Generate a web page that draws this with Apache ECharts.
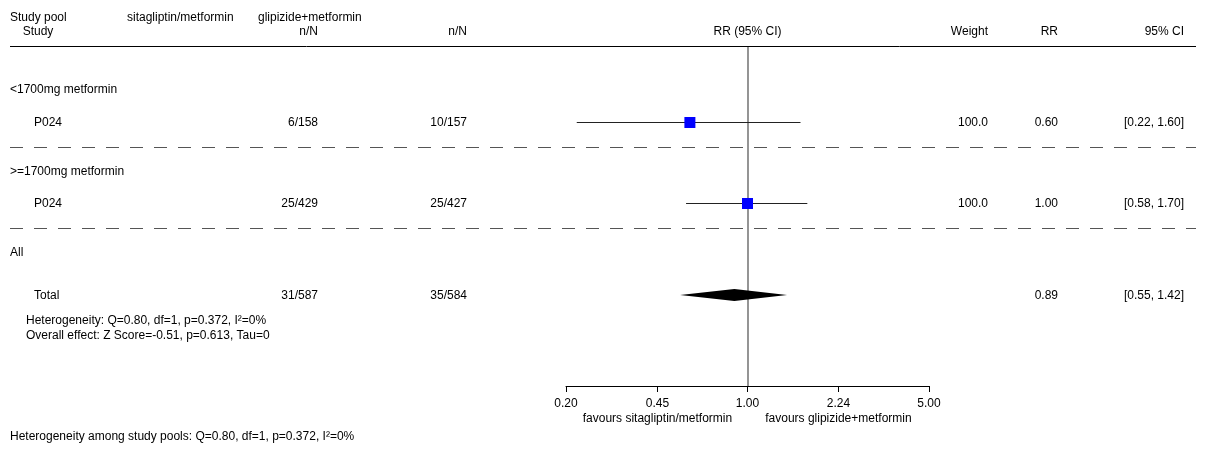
<!DOCTYPE html>
<html>
<head>
<meta charset="utf-8">
<script src="https://cdn.jsdelivr.net/npm/echarts@6/dist/echarts.min.js"></script>
<style>
html,body{margin:0;padding:0;background:#fff;}
#chart{width:1206px;height:453px;}
</style>
</head>
<body>
<div id="chart"></div>
<script>
// ---------------- data ----------------
const poolNames = ['<1700mg metformin', '>=1700mg metformin'];
const studyNames = ['P024', 'P024'];
const sitaEvents = [6, 25];
const sitaTotals = [158, 429];
const glipEvents = [10, 25];
const glipTotals = [157, 427];
const studyRR = [0.60, 1.00];
const studyLo = [0.22, 0.58];
const studyHi = [1.60, 1.70];
const studyWeight = [100.0, 100.0];
const overallLabel = 'Total';
const overallSita = [31, 587];
const overallGlip = [35, 584];
const overallRR = [0.89, 0.55, 1.42];
const hetText = 'Heterogeneity: Q=0.80, df=1, p=0.372, I\u00b2=0%';
const effectText = 'Overall effect: Z Score=-0.51, p=0.613, Tau=0';
const poolHetText = 'Heterogeneity among study pools: Q=0.80, df=1, p=0.372, I\u00b2=0%';
const xTicks = [0.20, 0.45, 1.00, 2.24, 5.00];
const favourLeft = 'favours sitagliptin/metformin';
const favourRight = 'favours glipizide+metformin';

// ---------------- layout ----------------
const ROW = {head1: 18, head2: 32, headLine: 47, pools: [90, 172], studies: [122, 203], seps: [147, 228],
  all: 253, total: 295, het: 321, eff: 336, axis: 386, favours: 419, bottom: 437};
const COL = {left: 10, indent: 34, hetIndent: 26, sitaRight: 318, glipRight: 467, sitaHead: 127, glipHead: 258,
  studyHeadCenter: 38, weightRight: 988, rrRight: 1058, ciRight: 1184, lineEnd: 1196};
const FONT = '12px "Liberation Sans", Arial, sans-serif';

const chart = echarts.init(document.getElementById('chart'), null, {renderer: 'canvas'});

function txt(text, x, y, align) {
  return {type: 'text', silent: true, z: 10,
    style: {text: text, x: x, y: y, font: FONT, fill: '#000',
      align: align || 'left', textAlign: align || 'left', verticalAlign: 'middle', textVerticalAlign: 'middle'}};
}
function hline(y, dashed, color) {
  return {type: 'line', silent: true, z: 5,
    shape: {x1: COL.left, y1: y + 0.5, x2: COL.lineEnd, y2: y + 0.5},
    style: {stroke: color, lineWidth: 1, lineDash: dashed ? [13, 11] : null}};
}
const fmtCI = (a, b) => '[' + a.toFixed(2) + ', ' + b.toFixed(2) + ']';

const studyData = studyRR.map((r, i) => [r, studyLo[i], studyHi[i], ROW.studies[i]]);

const option = {
  animation: false,
  grid: {left: 566, right: 1206 - 929, top: ROW.headLine, height: ROW.axis - ROW.headLine},
  xAxis: {
    type: 'log', min: 0.2, max: 5, logBase: 10,
    axisLine: {show: true, lineStyle: {color: '#000', width: 1}},
    axisTick: {show: true, length: 6, inside: false, customValues: xTicks, lineStyle: {color: '#000'}},
    axisLabel: {show: true, customValues: xTicks, margin: 12, color: '#000',
      fontFamily: '"Liberation Sans", Arial, sans-serif', fontSize: 12,
      formatter: v => Number(v).toFixed(2)},
    splitLine: {show: false}, minorTick: {show: false}, minorSplitLine: {show: false}
  },
  yAxis: {type: 'value', min: ROW.headLine, max: ROW.axis, inverse: true, show: false},
  series: [
    {
      type: 'custom', name: 'studies', data: studyData, z: 3,
      renderItem: function (params, api) {
        const y = api.value(3);
        const pc = api.coord([api.value(0), y]);
        const pl = api.coord([api.value(1), y]);
        const ph = api.coord([api.value(2), y]);
        const s = 11;
        return {type: 'group', children: [
          {type: 'line', shape: {x1: pl[0], y1: pc[1] + 0.5, x2: ph[0], y2: pc[1] + 0.5},
            style: {stroke: '#222', lineWidth: 1}},
          {type: 'rect', shape: {x: pc[0] - s / 2, y: pc[1] - s / 2 + 0.5, width: s, height: s},
            style: {fill: '#0000ff'}}
        ]};
      },
      markLine: {
        silent: true, symbol: 'none', label: {show: false}, z: 2,
        lineStyle: {color: '#7a7a7a', width: 1.6, type: 'solid'},
        data: [{xAxis: 1}]
      }
    },
    {
      type: 'custom', name: 'overall', data: [[overallRR[0], overallRR[1], overallRR[2], ROW.total]], z: 3,
      renderItem: function (params, api) {
        const y = api.value(3);
        const pc = api.coord([api.value(0), y]);
        const pl = api.coord([api.value(1), y]);
        const ph = api.coord([api.value(2), y]);
        const h = 6;
        return {type: 'polygon', shape: {points: [[pl[0], pc[1]], [pc[0], pc[1] - h], [ph[0], pc[1]], [pc[0], pc[1] + h]]},
          style: {fill: '#000'}};
      }
    }
  ]
};
chart.setOption(option);

// ---------- table text (graphic) ----------
const g = [];
g.push(txt('Study pool', COL.left, ROW.head1));
g.push(txt('sitagliptin/metformin', COL.sitaHead, ROW.head1));
g.push(txt('glipizide+metformin', COL.glipHead, ROW.head1));
g.push(txt('Study', COL.studyHeadCenter, ROW.head2, 'center'));
g.push(txt('n/N', COL.sitaRight, ROW.head2, 'right'));
g.push(txt('n/N', COL.glipRight, ROW.head2, 'right'));
const x1 = chart.convertToPixel({xAxisIndex: 0}, 1);
g.push(txt('RR (95% CI)', x1, ROW.head2, 'center'));
g.push(txt('Weight', COL.weightRight, ROW.head2, 'right'));
g.push(txt('RR', COL.rrRight, ROW.head2, 'right'));
g.push(txt('95% CI', COL.ciRight, ROW.head2, 'right'));
g.push(hline(ROW.headLine - 1, false, '#000'));

poolNames.forEach((p, i) => {
  g.push(txt(p, COL.left, ROW.pools[i]));
  g.push(txt(studyNames[i], COL.indent, ROW.studies[i] + 1));
  g.push(txt(sitaEvents[i] + '/' + sitaTotals[i], COL.sitaRight, ROW.studies[i] + 1, 'right'));
  g.push(txt(glipEvents[i] + '/' + glipTotals[i], COL.glipRight, ROW.studies[i] + 1, 'right'));
  g.push(txt(studyWeight[i].toFixed(1), COL.weightRight, ROW.studies[i] + 1, 'right'));
  g.push(txt(studyRR[i].toFixed(2), COL.rrRight, ROW.studies[i] + 1, 'right'));
  g.push(txt(fmtCI(studyLo[i], studyHi[i]), COL.ciRight, ROW.studies[i] + 1, 'right'));
  g.push(hline(ROW.seps[i], true, '#555'));
});
g.push(txt('All', COL.left, ROW.all));
g.push(txt(overallLabel, COL.indent, ROW.total + 1));
g.push(txt(overallSita[0] + '/' + overallSita[1], COL.sitaRight, ROW.total + 1, 'right'));
g.push(txt(overallGlip[0] + '/' + overallGlip[1], COL.glipRight, ROW.total + 1, 'right'));
g.push(txt(overallRR[0].toFixed(2), COL.rrRight, ROW.total + 1, 'right'));
g.push(txt(fmtCI(overallRR[1], overallRR[2]), COL.ciRight, ROW.total + 1, 'right'));
g.push(txt(hetText, COL.hetIndent, ROW.het));
g.push(txt(effectText, COL.hetIndent, ROW.eff));
g.push(txt(favourLeft, chart.convertToPixel({xAxisIndex: 0}, xTicks[1]), ROW.favours, 'center'));
g.push(txt(favourRight, chart.convertToPixel({xAxisIndex: 0}, xTicks[3]), ROW.favours, 'center'));
g.push(txt(poolHetText, COL.left, ROW.bottom));

chart.setOption({graphic: {elements: g}});
</script>
</body>
</html>
